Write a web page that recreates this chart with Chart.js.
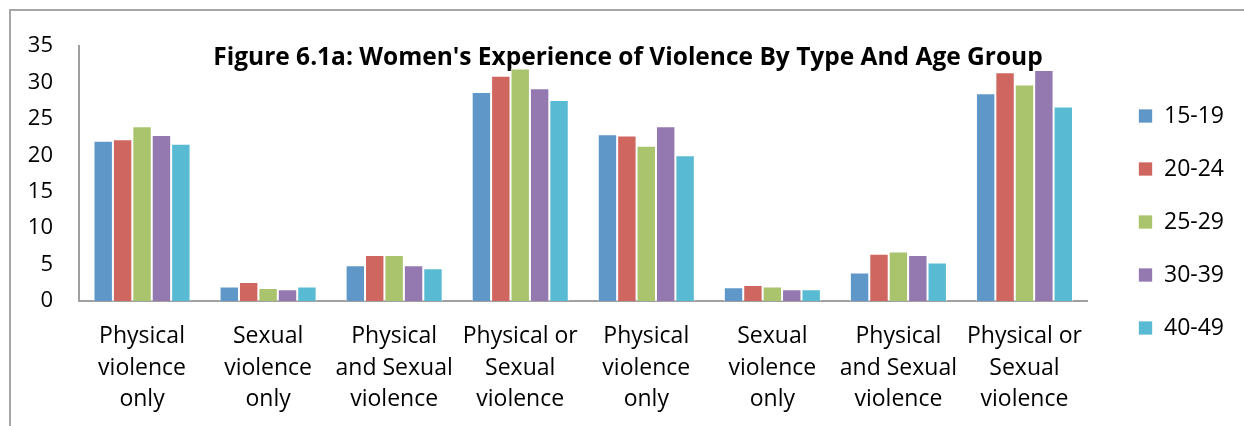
<!DOCTYPE html>
<html>
<head>
<meta charset="utf-8">
<script src="https://cdn.jsdelivr.net/npm/chart.js@4"></script>
<style>
  html, body { margin: 0; padding: 0; background: #fff; }
  #frame {
    position: absolute; left: 9px; top: 9px; right: 0; bottom: 0;
    border-top: 2px solid #a6a6a6; border-left: 2px solid #a6a6a6;
  }
  #chart-container { position: absolute; left: 0; top: 0; width: 1244px; height: 426px; }
</style>
</head>
<body>
<div id="frame"></div>
<div id="chart-container"><canvas id="chart"></canvas></div>
<script>
const categories = [
  ['Physical', 'violence', 'only'],
  ['Sexual', 'violence', 'only'],
  ['Physical', 'and Sexual', 'violence'],
  ['Physical or', 'Sexual', 'violence'],
  ['Physical', 'violence', 'only'],
  ['Sexual', 'violence', 'only'],
  ['Physical', 'and Sexual', 'violence'],
  ['Physical or', 'Sexual', 'violence']
];

const ageGroups = ['15-19', '20-24', '25-29', '30-39', '40-49'];

const age15to19 = [22.0, 2.0, 4.9, 28.7, 22.9, 1.9, 3.9, 28.5];
const age20to24 = [22.2, 2.6, 6.3, 30.9, 22.7, 2.2, 6.5, 31.4];
const age25to29 = [24.0, 1.8, 6.3, 31.9, 21.3, 2.0, 6.8, 29.7];
const age30to39 = [22.8, 1.6, 4.9, 29.2, 24.0, 1.6, 6.3, 31.7];
const age40to49 = [21.6, 2.0, 4.5, 27.6, 20.0, 1.6, 5.3, 26.7];

const seriesValues = [age15to19, age20to24, age25to29, age30to39, age40to49];
const seriesColors = ['#6097c9', '#cf6660', '#aac46e', '#9479b1', '#59bad3'];

const yTicks = [0, 5, 10, 15, 20, 25, 30, 35];

const font = 'Open Sans';

const datasets = ageGroups.map((label, i) => ({
  label: label,
  data: seriesValues[i],
  backgroundColor: seriesColors[i],
  borderColor: 'rgba(255,255,255,0.7)',
  borderWidth: 1,
  barPercentage: 1,
  categoryPercentage: 0.77,
}));

const chart = new Chart(document.getElementById('chart'), {
  type: 'bar',
  data: { labels: categories, datasets: datasets },
  options: {
    responsive: true,
    maintainAspectRatio: false,
    animation: false,
    layout: { padding: { left: 22, right: 10, top: 18, bottom: 0 } },
    plugins: {
      title: {
        display: true,
        text: "Figure 6.1a: Women's Experience of Violence By Type And Age Group",
        color: '#000',
        font: { family: font, size: 24.5, weight: 'bold', lineHeight: 1.2 },
        padding: { top: 25, bottom: -26.4 },
      },
      legend: {
        position: 'right',
        labels: {
          color: '#000',
          font: { family: font, size: 23 },
          boxWidth: 14,
          boxHeight: 14,
          padding: 30,
        },
      },
      tooltip: { enabled: false },
    },
    scales: {
      x: {
        grid: { display: false, drawTicks: false },
        border: { display: true, color: '#a0a0a0', width: 2 },
        ticks: {
          color: '#000',
          font: { family: font, size: 23, lineHeight: 1.39 },
          padding: 19,
          maxRotation: 0,
          autoSkip: false,
        },
        afterFit: (s) => { s.height = 125; },
      },
      y: {
        min: yTicks[0],
        max: yTicks[yTicks.length - 1],
        grid: { display: false, drawTicks: false },
        border: { display: true, color: '#a0a0a0', width: 2 },
        ticks: {
          stepSize: 5,
          color: '#000',
          font: { family: font, size: 22 },
          padding: 26,
        },
        afterFit: (s) => { s.width = 57; },
      },
      gap: {
        type: 'linear',
        position: 'right',
        grid: { display: false },
        border: { display: false },
        ticks: { display: false },
        afterFit: (s) => { s.width = 21; },
      },
    },
  },
});
</script>
</body>
</html>
